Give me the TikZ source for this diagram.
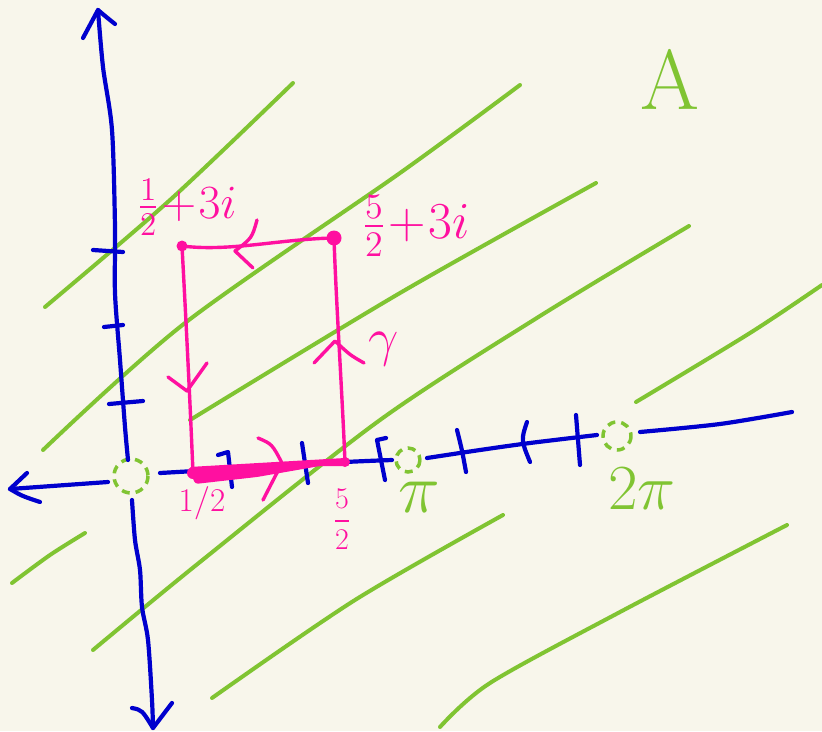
\documentclass[tikz,border=0pt]{standalone}
\usepackage{amsmath}
\definecolor{bgcol}{RGB}{248,246,235}
\definecolor{myblue}{RGB}{0,0,205}
\definecolor{mygreen}{RGB}{128,196,50}
\definecolor{mypink}{RGB}{255,16,160}
\tikzset{
  blueline/.style={draw=myblue, line width=4.2pt, line cap=round, line join=round},
  greenline/.style={draw=mygreen, line width=4pt, line cap=round, line join=round},
  pinkline/.style={draw=mypink, line width=3.4pt, line cap=round, line join=round},
  dashcirc/.style={draw=mygreen, line width=3.5pt, dash pattern=on 8pt off 6pt},
  pinklab/.style={text=mypink, inner sep=0pt, font=\huge},
  greenlab/.style={text=mygreen, inner sep=0pt, font=\huge},
}
\begin{document}
\begin{tikzpicture}[x=1pt,y=-1pt]
\fill[bgcol] (0,0) rectangle (822,731);
\useasboundingbox (0,0) rectangle (822,731);

% green stripes
\draw[greenline] plot[smooth] coordinates {(45,307) (170,200) (293,83)};
\draw[greenline] plot[smooth] coordinates {(43,450) (185,323) (400,173) (520,85)};
\draw[greenline] plot[smooth] coordinates {(190,420) (400,293) (596,183)};
\draw[greenline] plot[smooth] coordinates {(12,583) (50,555) (85,533)};
\draw[greenline] plot[smooth] coordinates {(93,650) (200,562) (380,420) (540,316) (689,226)};
\draw[greenline] plot[smooth] coordinates {(636,402) (750,333) (822,285)};
\draw[greenline] plot[smooth] coordinates {(212,698) (355,600) (503,515)};
\draw[greenline] plot[smooth] coordinates {(440,727) (490,683) (620,612) (787,525)};

% dashed circles
\draw[dashcirc] (131,476) circle (17);
\draw[dashcirc] (408,460) circle (12);
\draw[dashcirc] (617,436) circle (14);

% vertical axis
\draw[blueline] plot[smooth] coordinates {(98,10) (103,67) (112,130) (115,227) (115,293) (120,360) (125,427) (128,460)};
\draw[blueline] (83,38) -- (98,10) .. controls (105,16) .. (115,24);
\draw[blueline] plot[smooth] coordinates {(132,500) (135,540) (140,570) (142,607) (148,640) (152,700) (153,728)};
\draw[blueline] (132,708) .. controls (142,710) .. (153,728) -- (172,703);
\draw[blueline] (93,250) -- (123,252);
\draw[blueline] (104,327) -- (123,325);
\draw[blueline] (109,404) -- (143,401);

% horizontal axis
\draw[blueline] (108,482) -- (10,489);
\draw[blueline] (27,473) -- (10,489) .. controls (22,496) .. (40,502);
\draw[blueline] plot[smooth] coordinates {(160,473) (230,469) (300,465) (345,462) (392,460)};
\draw[blueline] plot[smooth] coordinates {(427,458) (480,450) (530,443) (597,435)};
\draw[blueline] plot[smooth] coordinates {(640,432) (720,424) (792,412)};
\draw[blueline] (218,455) -- (228,452) -- (232,487);
\draw[blueline] (302,443) -- (308,483);
\draw[blueline] (386,438) -- (377,440) -- (385,480);
\draw[blueline] (457,430) .. controls (462,450) .. (466,472);
\draw[blueline] (527,422) .. controls (521,440) .. (530,462);
\draw[blueline] (576,415) -- (580,465);

% pink contour
\coordinate (half) at (193,473);
\coordinate (fivehalf) at (345,462);
\coordinate (halfi) at (182,246);
\coordinate (fivehalfi) at (334,238);

\fill[mypink, rounded corners=3pt] (189,467) -- (345,458) -- (347,466) -- (320,466) -- (257,477) -- (195,484) -- cycle;
\draw[pinkline] (half) -- (fivehalf);
\draw[pinkline] (fivehalf) .. controls (342,390) and (336,300) .. (fivehalfi);
\draw[pinkline] (fivehalfi) .. controls (280,239) and (230,252) .. (halfi);
\draw[pinkline] (halfi) .. controls (186,320) and (190,400) .. (half);

\fill[mypink] (half) circle (6);
\fill[mypink] (fivehalf) circle (5);
\fill[mypink] (halfi) circle (5.5);
\fill[mypink] (fivehalfi) circle (7.5);

% direction marks
\draw[pinkline] (168,377) -- (187,391) -- (207,363);
\draw[pinkline] (314,363) -- (335,341) .. controls (350,355) .. (364,363);
\draw[pinkline] (257,220) .. controls (252,238) .. (235,251) -- (253,268);
\draw[pinkline] (258,438) .. controls (272,444) .. (282,463) -- (263,500);

% labels
\node[pinklab, scale=2.3] (lhalfi) at (187,207) {$\frac{1}{2}\!+\!3i$};
\node[pinklab, scale=2.5] (lfivehalfi) at (416,226) {$\frac{5}{2}\!+\!3i$};
\node[pinklab, scale=1.6] (lhalf) at (202,503) {$1/2$};
\node[pinklab, scale=1.45] (lfivehalf) at (342,519) {$\dfrac{5}{2}$};
\node[pinklab, scale=2.6] (lgamma) at (384,349) {$\gamma$};
\node[greenlab, scale=3.4] (lpi) at (419,497) {$\pi$};
\node[greenlab, scale=3.1] (ltwopi) at (642,489) {$2\pi$};
\node[greenlab, scale=4.1] (lA) at (670,79) {A};
\end{tikzpicture}
\end{document}
